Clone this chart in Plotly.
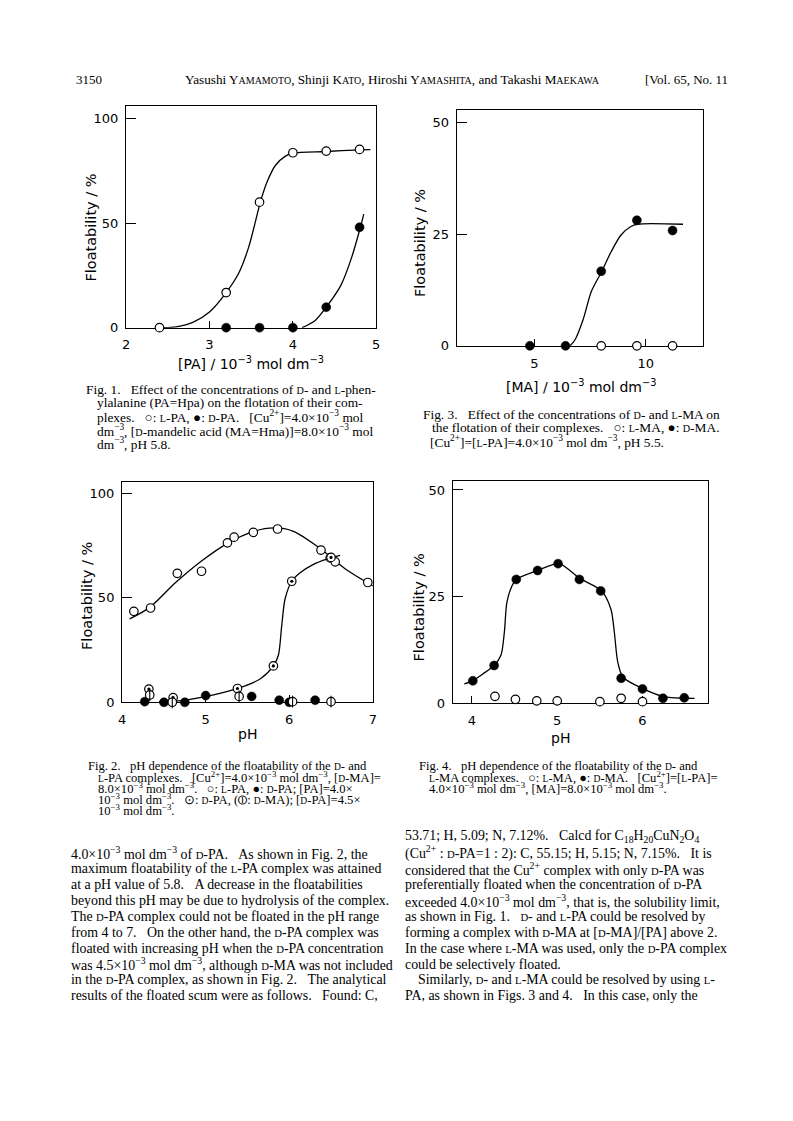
import plotly.graph_objects as go

# page is shown with an 8 px body margin; the figure is sized to fit the 793x1121 window
OFF = 8
W, H = 793 - OFF, 1121 - OFF

# ---------------- data ----------------
# Fig. 1  x: [PA] / 1e-3 mol dm-3 ; y: floatability %
f1_lpa_x = [2.4, 3.2, 3.6, 4.0, 4.4, 4.8]
f1_lpa_y = [0.0, 16.8, 60.0, 83.6, 84.4, 85.2]
f1_dpa_x = [3.2, 3.6, 4.0, 4.4, 4.8]
f1_dpa_y = [0.0, 0.0, 0.0, 9.8, 48.0]
f1_lcurve_x = [2.44, 2.6, 2.8, 3.0, 3.2, 3.35, 3.47, 3.55, 3.61, 3.69, 3.79, 3.91, 4.0, 4.4, 4.81, 4.93]
f1_lcurve_y = [0.0, 0.4, 2.5, 7.5, 16.8, 26.0, 38.5, 50.6, 60.0, 69.6, 77.5, 82.0, 83.4, 84.2, 85.0, 85.1]
f1_dcurve_x = [4.11, 4.26, 4.4, 4.58, 4.7, 4.81, 4.85]
f1_dcurve_y = [0.0, 3.2, 9.8, 20.6, 33.0, 48.0, 54.3]

# Fig. 2  x: pH
f2_lpa_x = [4.14, 4.34, 4.66, 4.95, 5.26, 5.34, 5.57, 5.86, 6.38, 6.49, 6.55, 6.94]
f2_lpa_y = [43.5, 45.1, 61.7, 62.7, 76.3, 79.0, 81.3, 82.9, 72.8, 69.1, 67.2, 57.3]
f2_dpa_x = [4.27, 4.5, 4.75, 5.0, 5.55, 5.88, 6.0, 6.31]
f2_dpa_y = [0.3, 0.0, 0.0, 3.2, 2.8, 1.0, 0.0, 1.0]
f2_dpa45_x = [4.32, 4.61, 5.38, 5.81, 6.03, 6.5]
f2_dpa45_y = [6.3, 2.2, 6.6, 17.4, 57.9, 69.3]
f2_dma_x = [4.33, 4.6, 5.4, 6.04, 6.5]
f2_dma_y = [3.5, 0.0, 2.8, 0.3, 0.3]
f2_lcurve_x = [4.09, 4.33, 4.64, 4.95, 5.27, 5.58, 5.82, 6.05, 6.36, 6.68, 7.0]
f2_lcurve_y = [39.9, 45.4, 57.3, 67.6, 76.3, 81.8, 83.4, 81.8, 73.9, 63.5, 55.7]
f2_dcurve_x = [4.44, 4.6, 5.0, 5.38, 5.66, 5.81, 5.87, 5.91, 5.95, 6.03, 6.13, 6.29, 6.44, 6.61]
f2_dcurve_y = [0.0, 0.3, 2.7, 6.6, 11.4, 17.4, 22.5, 36.7, 49.4, 57.9, 62.0, 66.0, 68.4, 70.3]

# Fig. 3  x: [MA] / 1e-3 mol dm-3
f3_dma_x = [4.8, 6.4, 8.0, 9.6, 11.2]
f3_dma_y = [0.0, 0.0, 16.7, 28.1, 25.8]
f3_lma_x = [8.0, 9.6, 11.2]
f3_lma_y = [0.0, 0.0, 0.0]
f3_curve_x = [6.6, 6.82, 7.19, 7.56, 8.03, 8.45, 8.89, 9.33, 9.62, 11.67]
f3_curve_y = [0.0, 1.3, 5.9, 12.2, 16.7, 21.1, 24.8, 26.7, 27.2, 27.2]

# Fig. 4  x: pH
f4_dma_x = [4.01, 4.26, 4.52, 4.77, 5.01, 5.26, 5.51, 5.75, 6.0, 6.24, 6.49]
f4_dma_y = [5.2, 8.8, 29.0, 31.1, 32.7, 29.0, 26.3, 5.8, 3.3, 1.1, 1.2]
f4_lma_x = [4.27, 4.51, 4.76, 5.0, 5.25, 5.5, 5.75, 6.0, 6.24]
f4_lma_y = [1.55, 0.85, 0.5, 0.5, -0.15, 0.3, 1.1, 0.3, -0.15]
f4_curve_x = [3.91, 4.01, 4.12, 4.26, 4.34, 4.38, 4.41, 4.47, 4.52, 4.77, 5.02, 5.26, 5.52, 5.63, 5.67, 5.71, 5.77, 6.01, 6.25, 6.61]
f4_curve_y = [4.5, 5.2, 6.7, 8.8, 11.2, 16.6, 23.6, 27.5, 29.0, 31.1, 32.7, 29.3, 26.3, 22.0, 16.6, 9.6, 6.1, 3.3, 1.5, 1.1]

# tick values
f1_xticks = [2, 3, 4, 5]
f1_yticks = [0, 50, 100]
f2_xticks = [4, 5, 6, 7]
f2_yticks = [0, 50, 100]
f3_xticks = [5, 10]
f3_yticks = [0, 25, 50]
f4_xticks = [4, 5, 6]
f4_yticks = [0, 25, 50]

# ---------------- helpers ----------------
def px(x):
    return (x - OFF) / W

def py(y):
    return 1 - (y - OFF) / H

BLACK = "black"
LW = 1.3
SERIF = "Liberation Serif"
SANS = "DejaVu Sans"

fig = go.Figure()


def curve(x, y, n):
    fig.add_trace(go.Scatter(x=x, y=y, mode="lines", xaxis=f"x{n}", yaxis=f"y{n}",
                             line=dict(color=BLACK, width=LW, shape="spline", smoothing=0.8),
                             hoverinfo="skip", showlegend=False, cliponaxis=False))


def open_pts(x, y, n):
    fig.add_trace(go.Scatter(x=x, y=y, mode="markers", xaxis=f"x{n}", yaxis=f"y{n}",
                             marker=dict(symbol="circle", size=8.5, color="white",
                                         line=dict(color=BLACK, width=1.2)),
                             showlegend=False, cliponaxis=False))


def filled_pts(x, y, n):
    fig.add_trace(go.Scatter(x=x, y=y, mode="markers", xaxis=f"x{n}", yaxis=f"y{n}",
                             marker=dict(symbol="circle", size=9, color=BLACK,
                                         line=dict(color=BLACK, width=0.5)),
                             showlegend=False, cliponaxis=False))


def dot_pts(x, y, n):
    open_pts(x, y, n)
    fig.add_trace(go.Scatter(x=x, y=y, mode="markers", xaxis=f"x{n}", yaxis=f"y{n}",
                             marker=dict(symbol="circle", size=3.2, color=BLACK, line=dict(width=0)),
                             showlegend=False, cliponaxis=False))


def bar_pts(x, y, n):
    open_pts(x, y, n)
    fig.add_trace(go.Scatter(x=x, y=y, mode="markers", xaxis=f"x{n}", yaxis=f"y{n}",
                             marker=dict(symbol="line-ns", size=8.5, color=BLACK,
                                         line=dict(color=BLACK, width=1.1)),
                             showlegend=False, cliponaxis=False))


# Fig 1
curve(f1_lcurve_x, f1_lcurve_y, 1)
curve(f1_dcurve_x, f1_dcurve_y, 1)
open_pts(f1_lpa_x, f1_lpa_y, 1)
filled_pts(f1_dpa_x, f1_dpa_y, 1)
# Fig 2
curve(f2_lcurve_x, f2_lcurve_y, 2)
curve(f2_dcurve_x, f2_dcurve_y, 2)
open_pts(f2_lpa_x, f2_lpa_y, 2)
filled_pts(f2_dpa_x, f2_dpa_y, 2)
dot_pts(f2_dpa45_x, f2_dpa45_y, 2)
bar_pts(f2_dma_x, f2_dma_y, 2)
# Fig 3
curve(f3_curve_x, f3_curve_y, 3)
filled_pts(f3_dma_x, f3_dma_y, 3)
open_pts(f3_lma_x, f3_lma_y, 3)
# Fig 4
curve(f4_curve_x, f4_curve_y, 4)
filled_pts(f4_dma_x, f4_dma_y, 4)
open_pts(f4_lma_x, f4_lma_y, 4)


def axis_pair(n, xpx, ypx, xr, yr, xt, yt):
    common = dict(showline=True, mirror=True, linecolor=BLACK, linewidth=LW,
                  ticks="inside", tickcolor=BLACK, tickwidth=LW, showgrid=False,
                  zeroline=False, layer="below traces",
                  tickfont=dict(family=SANS, size=13, color=BLACK))
    xa = dict(common, domain=[px(xpx[0]), px(xpx[1])], range=xr, tickvals=xt,
              ticklen=7, anchor=f"y{n}", ticklabelstandoff=5)
    ya = dict(common, domain=[py(ypx[0]), py(ypx[1])], range=yr, tickvals=yt,
              ticklen=10, anchor=f"x{n}", ticklabelstandoff=4)
    key = "" if n == 1 else str(n)
    fig.layout["xaxis" + key] = xa
    fig.layout["yaxis" + key] = ya


axis_pair(1, (123.3, 376.0), (330.0, 107.0), [2, 5], [0, 105.8], f1_xticks, f1_yticks)
axis_pair(2, (119.3, 372.5), (707.3, 485.0), [4, 7], [0, 105.6], f2_xticks, f2_yticks)
axis_pair(3, (457.3, 706.0), (348.3, 111.0), [1.52, 12.56], [0, 52.7], f3_xticks, f3_yticks)
axis_pair(4, (453.3, 710.7), (708.0, 484.0), [3.775, 6.763], [0, 52.2], f4_xticks, f4_yticks)

annotations = []


def ann(x, y, text, size, family=SERIF, xanchor="left", yanchor="middle", angle=0):
    annotations.append(dict(x=px(x), y=py(y), xref="paper", yref="paper", text=text,
                            showarrow=False, xanchor=xanchor, yanchor=yanchor,
                            textangle=angle, borderpad=0,
                            font=dict(family=family, size=size, color=BLACK)))


def sc(s, size):
    return f'<span style="font-size:{size}px">{s}</span>'


NB = "\u00a0"
M = "\u2212"

# axis titles
ann(249.5, 366, f"[PA] / 10<sup>{M}3</sup> mol dm<sup>{M}3</sup>", 14, SANS, "center")
ann(583, 389, f"[MA] / 10<sup>{M}3</sup> mol dm<sup>{M}3</sup>", 14, SANS, "center")
ann(246, 739, "pH", 14, SANS, "center")
ann(562, 743, "pH", 14, SANS, "center")
ann(88, 229, "Floatability / %", 14.5, SANS, "center", angle=-90)
ann(84, 600, "Floatability / %", 14.5, SANS, "center", angle=-90)
ann(421, 245, "Floatability / %", 14.5, SANS, "center", angle=-90)
ann(419, 612, "Floatability / %", 14.5, SANS, "center", angle=-90)

# header
hs = 10
ann(72, 80, "3150", 13)
ann(392, 80, f"Yasushi Y{sc('AMAMOTO', hs)}, Shinji K{sc('ATO', hs)}, Hiroshi Y{sc('AMASHITA', hs)}, and Takashi M{sc('AEKAWA', hs)}", 13.2, xanchor="center")
ann(732, 80, "[Vol. 65, No. 11", 13, xanchor="right")

# captions
cs = 13.4
c = 10.2
D = sc("D", c)
L = sc("L", c)
SP3 = NB * 3
cap1 = [
    (82, f"Fig. 1.{SP3}Effect of the concentrations of {D}- and {L}-phen-"),
    (93, f"ylalanine (PA=Hpa) on the flotation of their com-"),
    (93, f"plexes.{SP3}○: {L}-PA, ●: {D}-PA.{SP3}[Cu<sup>2+</sup>]=4.0×10<sup>{M}3</sup> mol"),
    (93, f"dm<sup>{M}3</sup>, [{D}-mandelic acid (MA=Hma)]=8.0×10<sup>{M}3</sup> mol"),
    (93, f"dm<sup>{M}3</sup>, pH 5.8."),
]
for i, (x, t) in enumerate(cap1):
    ann(x, 392 + 13.7 * i, t, cs)

cap3 = [
    (422, f"Fig. 3.{SP3}Effect of the concentrations of {D}- and {L}-MA on"),
    (431, f"the flotation of their complexes.{SP3}○: {L}-MA, ●: {D}-MA."),
    (429, f"[Cu<sup>2+</sup>]=[{L}-PA]=4.0×10<sup>{M}3</sup> mol dm<sup>{M}3</sup>, pH 5.5."),
]
for i, (x, t) in enumerate(cap3):
    ann(x, 417 + 13.6 * i, t, cs)

cs2 = 12.6
c2 = 9.6
D = sc("D", c2)
L = sc("L", c2)
cap2 = [
    (84, f"Fig. 2.{SP3}pH dependence of the floatability of the {D}- and"),
    (94, f"{L}-PA complexes.{SP3}[Cu<sup>2+</sup>]=4.0×10<sup>{M}3</sup> mol dm<sup>{M}3</sup>, [{D}-MA]="),
    (94, f"8.0×10<sup>{M}3</sup> mol dm<sup>{M}3</sup>.{SP3}○: {L}-PA, ●: {D}-PA; [PA]=4.0×"),
    (94, f"10<sup>{M}3</sup> mol dm<sup>{M}3</sup>.{SP3}⊙: {D}-PA, (⦶: {D}-MA); [{D}-PA]=4.5×"),
    (94, f"10<sup>{M}3</sup> mol dm<sup>{M}3</sup>."),
]
for i, (x, t) in enumerate(cap2):
    ann(x, 771.5 + 11.2 * i, t, cs2)

cap4 = [
    (418, f"Fig. 4.{SP3}pH dependence of the floatability of the {D}- and"),
    (428, f"{L}-MA complexes.{SP3}○: {L}-MA, ●: {D}-MA.{SP3}[Cu<sup>2+</sup>]=[{L}-PA]="),
    (428, f"4.0×10<sup>{M}3</sup> mol dm<sup>{M}3</sup>, [MA]=8.0×10<sup>{M}3</sup> mol dm<sup>{M}3</sup>."),
]
for i, (x, t) in enumerate(cap4):
    ann(x, 771.5 + 11.2 * i, t, cs2)

# body text
bs = 13.9
b = 10.7
D = sc("D", b)
L = sc("L", b)
left_body = [
    f"4.0×10<sup>{M}3</sup> mol dm<sup>{M}3</sup> of {D}-PA.{SP3}As shown in Fig. 2, the",
    f"maximum floatability of the {L}-PA complex was attained",
    f"at a pH value of 5.8.{SP3}A decrease in the floatabilities",
    f"beyond this pH may be due to hydrolysis of the complex.",
    f"The {D}-PA complex could not be floated in the pH range",
    f"from 4 to 7.{SP3}On the other hand, the {D}-PA complex was",
    f"floated with increasing pH when the {D}-PA concentration",
    f"was 4.5×10<sup>{M}3</sup> mol dm<sup>{M}3</sup>, although {D}-MA was not included",
    f"in the {D}-PA complex, as shown in Fig. 2.{SP3}The analytical",
    f"results of the floated scum were as follows.{SP3}Found: C,",
]
for i, t in enumerate(left_body):
    ann(67, 859 + 16 * i, t, bs)

right_body = [
    (404, f"53.71; H, 5.09; N, 7.12%.{SP3}Calcd for C<sub>18</sub>H<sub>20</sub>CuN<sub>2</sub>O<sub>4</sub>"),
    (404, f"(Cu<sup>2+</sup> : {D}-PA=1 : 2): C, 55.15; H, 5.15; N, 7.15%.{SP3}It is"),
    (404, f"considered that the Cu<sup>2+</sup> complex with only {D}-PA was"),
    (404, f"preferentially floated when the concentration of {D}-PA"),
    (404, f"exceeded 4.0×10<sup>{M}3</sup> mol dm<sup>{M}3</sup>, that is, the solubility limit,"),
    (404, f"as shown in Fig. 1.{SP3}{D}- and {L}-PA could be resolved by"),
    (404, f"forming a complex with {D}-MA at [{D}-MA]/[PA] above 2."),
    (404, f"In the case where {L}-MA was used, only the {D}-PA complex"),
    (404, f"could be selectively floated."),
    (417, f"Similarly, {D}- and {L}-MA could be resolved by using {L}-"),
    (404, f"PA, as shown in Figs. 3 and 4.{SP3}In this case, only the"),
]
for i, (x, t) in enumerate(right_body):
    ann(x, 843 + 16 * i, t, bs)

fig.update_layout(width=W, height=H, margin=dict(l=0, r=0, t=0, b=0),
                  paper_bgcolor="white", plot_bgcolor="white",
                  showlegend=False, annotations=annotations)

fig.write_html("out.html")
